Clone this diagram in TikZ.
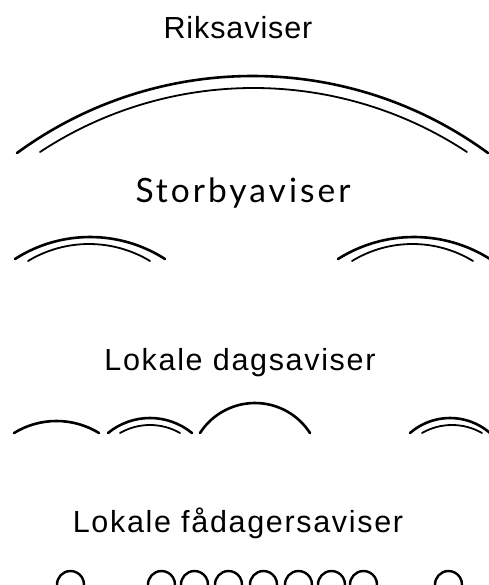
\documentclass[tikz,border=0pt]{standalone}
\usepackage{fontspec}
\setmainfont{Liberation Sans}
\newfontfamily\rikfont[LetterSpace=3]{Liberation Sans}
\newfontfamily\lokfont[LetterSpace=5.5]{Liberation Sans}
\newfontfamily\storfont[LetterSpace=9]{Lato}
\newcommand\harc[5][]{%
  \pgfmathsetmacro\hw{(#3-#2)/2}%
  \pgfmathsetmacro\hh{#4-#5}%
  \pgfmathsetmacro\R{0.5*(\hw*(\hw/\hh)+\hh)}%
  \pgfmathsetmacro\ph{atan2(\hw,\R-\hh)}%
  \draw[#1] (#2,#4) arc[start angle=270-\ph, end angle=270+\ph, radius=\R];%
}
\tikzset{
  outerarc/.style={line width=2.6pt, line cap=round},
  innerarc/.style={line width=1.8pt, line cap=round},
  smallarc/.style={line width=2.4pt, line cap=round},
  lbl/.style={anchor=base, inner sep=0pt}
}
\begin{document}
\begin{tikzpicture}[x=1pt,y=-1pt]
\useasboundingbox (0,0) rectangle (488,585);
% labels
\node[lbl] (rik) at (238,39) {\rikfont\fontsize{30.5}{36}\selectfont Riksaviser};
\node[lbl] (stor) at (243,202) {\storfont\fontsize{33.5}{40}\selectfont Storbyaviser};
\node[lbl] (lokd) at (240,370) {\lokfont\fontsize{30.5}{36}\selectfont Lokale dagsaviser};
\node[lbl] (lokf) at (238,532) {\lokfont\fontsize{30.5}{36}\selectfont Lokale fådagersaviser};
% Riksaviser
\harc[outerarc]{17}{488}{153}{76}
\harc[innerarc]{40}{467}{152}{88}
% Storbyaviser
\harc[outerarc]{15}{165}{259}{237}
\harc[innerarc]{28}{150}{261}{244}
\harc[outerarc]{338}{490}{259}{237}
\harc[innerarc]{352}{473}{261}{244}
% Lokale dagsaviser
\harc[outerarc]{14}{99}{433}{421}
\harc[outerarc]{108}{192}{433}{418}
\harc[innerarc]{120}{180}{433}{425}
\harc[outerarc]{200}{310}{433}{403}
\harc[outerarc]{410}{490}{433}{418}
\harc[innerarc]{422}{482}{433}{425}
% Lokale faadagersaviser
\foreach \xa in {57,148,181,215,250,285,318,350,435}{
  \harc[smallarc]{\xa}{\xa+27}{585}{571}
}
\end{tikzpicture}
\end{document}
